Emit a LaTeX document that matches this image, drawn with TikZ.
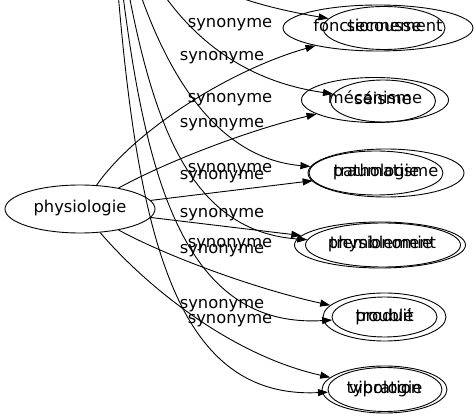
\documentclass[tikz,border=0pt]{standalone}
\usepackage{fontspec}
\setmainfont{DejaVu Sans}
\usetikzlibrary{shapes.geometric,arrows.meta}
\begin{document}
\begin{tikzpicture}[x=1pt,y=-1pt,
  word/.style={draw,ellipse,inner sep=0pt,line width=0.9pt,text height=12pt,text depth=4pt,font=\fontsize{16.3}{19}\selectfont},
  lab/.style={inner sep=0pt,font=\fontsize{16.3}{19}\selectfont},
  syn/.style={line width=0.9pt,-{Triangle[length=10pt,width=7pt]}}]
\useasboundingbox (0,0) rectangle (476,419);
\clip (0,0) rectangle (476,419);
\coordinate (hub) at (110,-120);
% nodes
\node[word,minimum width=150pt,minimum height=48pt] (phys) at (80,209) {physiologie};
\node[word,minimum width=190pt,minimum height=46pt] (f1) at (378,28) {fonctionnement};
\node[word,minimum width=122pt,minimum height=43pt] (s1) at (384,28) {secousse};
\node[word,minimum width=147pt,minimum height=45pt] (m2) at (375,100) {mécanisme};
\node[word,minimum width=105pt,minimum height=42pt] (s2) at (383,101) {séisme};
\node[word,minimum width=156pt,minimum height=48pt] (t3) at (386,173) {traumatisme};
\node[word,minimum width=134pt,minimum height=44pt] (p3) at (376,173) {pathologie};
\node[word,minimum width=171pt,minimum height=46pt] (p4) at (380,245) {physionomie};
\node[word,minimum width=155pt,minimum height=44pt] (t4) at (383,245) {tremblement};
\node[word,minimum width=123pt,minimum height=48pt] (p5) at (384.5,317) {produit};
\node[word,minimum width=105pt,minimum height=40pt] (t5) at (384.5,317) {troublé};
\node[word,minimum width=125pt,minimum height=47pt] (ty6) at (384.5,389.5) {typologie};
\node[word,minimum width=114pt,minimum height=44pt] (v6) at (385,389.5) {vibration};
% edges from physiologie
\draw[syn] (phys) .. controls (135,130) and (230,70) .. (f1);
\draw[syn] (phys) .. controls (170,160) and (250,130) .. (m2);
\draw[syn] (phys) -- (p3);
\draw[syn] (phys) -- (p4);
\draw[syn] (phys) .. controls (170,258) and (260,290) .. (p5);
\draw[syn] (phys) .. controls (145,285) and (230,355) .. (ty6);
% edges from the hub above the picture
\draw[syn] (hub) .. controls (150,-30) and (220,0) .. (s1);
\draw[syn] (hub) .. controls (140,-20) and (200,75) .. (s2);
\draw[syn] (hub) .. controls (130,-20) and (178,155) .. (t3);
\draw[syn] (hub) .. controls (140,80) and (170,230) .. (t4);
\draw[syn] (hub) .. controls (135,120) and (160,330) .. (t5);
\draw[syn] (hub) .. controls (130,200) and (160,400) .. (v6);
% labels
\node[lab] (l1) at (230,25) {synonyme};
\node[lab] (l2) at (222,57.5) {synonyme};
\node[lab] (l3) at (230,100) {synonyme};
\node[lab] (l4) at (222,125) {synonyme};
\node[lab] (l5) at (230,170) {synonyme};
\node[lab] (l6) at (222,177) {synonyme};
\node[lab] (l7) at (222,215) {synonyme};
\node[lab] (l8) at (230,245) {synonyme};
\node[lab] (l9) at (222,251) {synonyme};
\node[lab] (l10) at (222,305.5) {synonyme};
\node[lab] (l11) at (230,320.5) {synonyme};
\end{tikzpicture}
\end{document}
